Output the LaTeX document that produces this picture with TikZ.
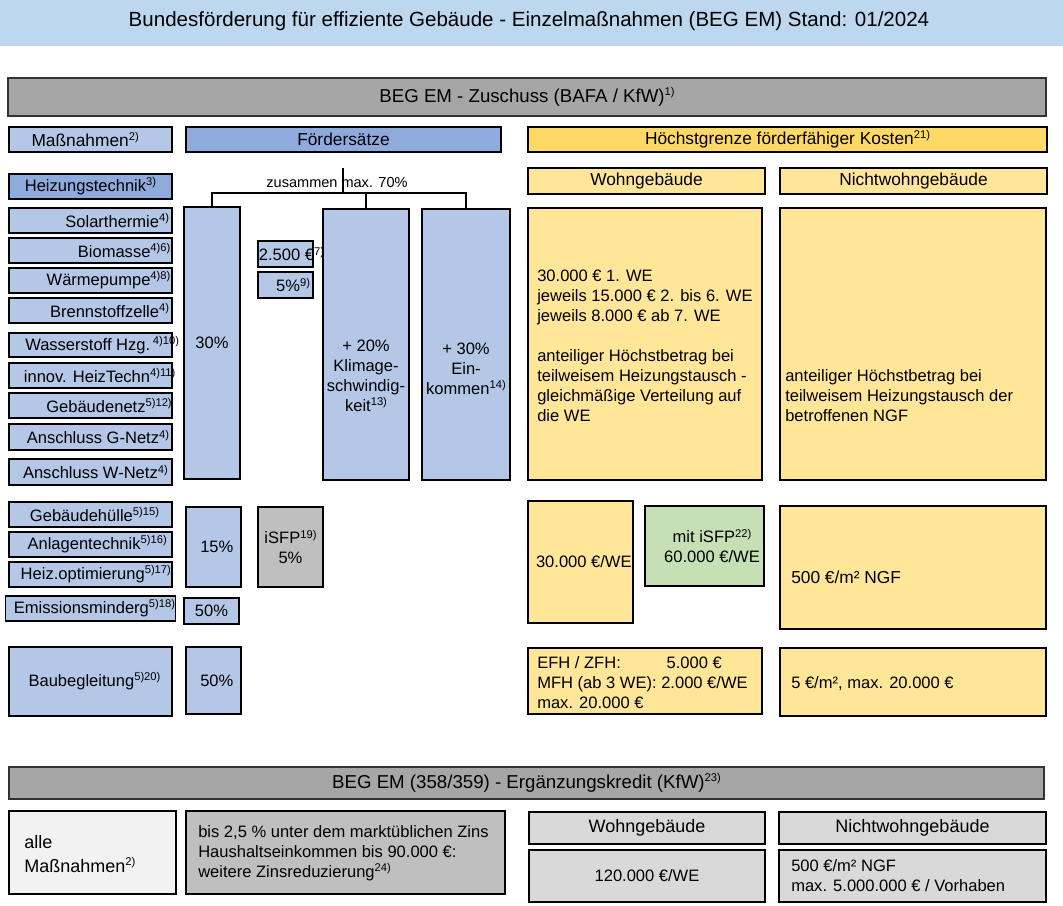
\documentclass[tikz,border=0pt]{standalone}
\usepackage{fontspec}
\setmainfont{Liberation Sans}
\definecolor{cband}{HTML}{BDD7EE}
\definecolor{cbar}{HTML}{A6A6A6}
\definecolor{cdark}{HTML}{333333}
\definecolor{clb}{HTML}{B4C7E7}
\definecolor{cmb}{HTML}{8FAADC}
\definecolor{cyd}{HTML}{FFD966}
\definecolor{cyl}{HTML}{FFE699}
\definecolor{cgn}{HTML}{C5E0B4}
\definecolor{cgr}{HTML}{BFBFBF}
\definecolor{cwh}{HTML}{F2F2F2}
\definecolor{cgl}{HTML}{D9D9D9}
\newcommand\fnx[1]{\raisebox{0.36em}{\fontsize{8.4pt}{9pt}\selectfont #1}}
\newcommand\ftitle{\fontsize{15.4pt}{18pt}\selectfont}
\newcommand\fbar{\fontsize{14pt}{16pt}\selectfont}
\newcommand\fhead{\fontsize{13pt}{15pt}\selectfont}
\newcommand\fheadb{\fontsize{13.5pt}{16pt}\selectfont}
\newcommand\fbody{\fontsize{12.4pt}{15pt}\selectfont}
\newcommand\fbodyb{\fontsize{13pt}{15pt}\selectfont}
\newcommand\fsmall{\fontsize{10.9pt}{12pt}\selectfont}
% name, style, x1, y1, x2, y2, text
\newcommand\bxx[7]{%
  \pgfmathsetmacro\bw{(#5-#3)*0.75}%
  \pgfmathsetmacro\bh{(#6-#4)*0.75}%
  \node[boxbase,#2,minimum width=\bw pt,minimum height=\bh pt] (#1) at ({(#3+#5)/2},{(#4+#6)/2}) {#7};}
\begin{document}
\begin{tikzpicture}[x=0.75pt,y=-0.75pt,
  boxbase/.style={draw=black,line width=0.8pt,inner sep=0pt,outer sep=0pt,align=center,font=\fbody},
  lb/.style={fill=clb},
  mb/.style={fill=cmb},
  yd/.style={fill=cyd},
  yl/.style={fill=cyl},
  gn/.style={fill=cgn},
  gr/.style={fill=cgr},
  bar/.style={fill=cbar,draw=cdark,line width=2pt,font=\fbar},
  bar2/.style={fill=cbar,draw=cdark,line width=1.3pt,font=\fbar},
  txt/.style={inner sep=0pt,font=\fbody},
  txtl/.style={inner sep=0pt,font=\fbody,align=left,anchor=west},
  conn/.style={draw=black,line width=0.8pt}]
\useasboundingbox (0,0) rectangle (1063,906);
\fill[white] (0,0) rectangle (1063,906);
% title
\bxx{band}{fill=cband,draw=none,font=\ftitle}{0}{0}{1063}{46}{}
\node[inner sep=0pt,font=\ftitle] (title) at (529,21) {Bundesförderung für effiziente Gebäude - Einzelmaßnahmen (BEG EM) Stand: 01/2024};
\bxx{zus}{bar}{8}{78}{1046}{116}{BEG EM - Zuschuss (BAFA / KfW)\fnx{1)}}
% headers
\bxx{massn}{lb,font=\fhead}{9}{127}{172}{152}{\hspace{-8pt}Maßnahmen\fnx{2)}}
\bxx{foerd}{mb,font=\fhead}{186}{127}{501}{152}{Fördersätze}
\bxx{hoechst}{yd,font=\fhead}{528}{127}{1047}{152}{Höchstgrenze förderfähiger Kosten\fnx{21)}}
\bxx{heiz}{mb}{9}{174}{172}{199}{Heizungstechnik\fnx{3)}}
\bxx{wg}{yl,font=\fhead}{528}{168}{765}{194}{Wohngebäude}
\bxx{nwg}{yl,font=\fhead}{780}{168}{1047}{194}{Nichtwohngebäude}
% heating measures
\bxx{solar}{lb}{9}{208}{172}{233}{}
\bxx{bio}{lb}{9}{238}{172}{263}{}
\bxx{wp}{lb}{9}{268}{172}{293}{}
\bxx{bz}{lb}{9}{298}{172}{323}{}
\bxx{hzwei}{lb}{9}{333}{172}{357}{}
\bxx{innov}{lb}{9}{363}{172}{388}{}
\bxx{gnetz}{lb}{9}{393}{172}{418}{}
\bxx{ganschl}{lb}{9}{424}{172}{450}{}
\bxx{wanschl}{lb}{9}{459}{172}{485}{}
\node[txt,anchor=east] (solar-t) at ([xshift=-2]solar.east) {Solarthermie\fnx{4)}};
\node[txt,anchor=east] (bio-t) at ([xshift=-1]bio.east) {Biomasse\fnx{4)6)}};
\node[txt,anchor=east] (wp-t) at ([xshift=-1]wp.east) {Wärmepumpe\fnx{4)8)}};
\node[txt,anchor=east] (bz-t) at ([xshift=-2]bz.east) {Brennstoffzelle\fnx{4)}};
\node[txt,anchor=west] (hzwei-t) at ([xshift=12]hzwei.west) {Wasserstoff Hzg.\,\fnx{4)10)}};
\node[txt,anchor=west] (innov-t) at ([xshift=11]innov.west) {innov. HeizTechn\fnx{4)11)}};
\node[txt,anchor=east] (gnetz-t) at ([xshift=0]gnetz.east) {Gebäudenetz\fnx{5)12)}};
\node[txt,anchor=east] (ganschl-t) at ([xshift=-2]ganschl.east) {Anschluss G-Netz\fnx{4)}};
\node[txt,anchor=east] (wanschl-t) at ([xshift=-3]wanschl.east) {Anschluss W-Netz\fnx{4)}};
% rates heating
\bxx{pdreissig}{lb}{184}{207}{240}{479}{30\%}
\draw[line width=1.6pt,black] (pdreissig.north east) -- (pdreissig.south east);
\bxx{peur}{lb}{258}{241}{313}{267}{}
\node[txt,anchor=west] (peur-t) at ([xshift=0.5]peur.west) {2.500 €\fnx{7)}};
\bxx{pfuenf}{lb}{258}{272}{313}{298}{}
\node[txt,anchor=east] (pfuenf-t) at ([xshift=-2]pfuenf.east) {5\%\fnx{9)}};
\bxx{klima}{lb}{323}{209}{409}{480}{}
\node[txt,align=center] (klima-t) at (366,376) {+ 20\%\\Klimage-\\schwindig-\\keit\fnx{13)}};
\bxx{eink}{lb}{422}{209}{510}{480}{}
\node[txt,align=center] (eink-t) at (466,369) {+ 30\%\\Ein-\\kommen\fnx{14)}};
% bracket
\coordinate (brtop) at (343,168);
\coordinate (brmid) at (343,193);
\node[inner sep=0pt,font=\fsmall] (zusammen) at (337,182) {zusammen max. 70\%};
\draw[conn] (pdreissig.north) -- (pdreissig.north |- brmid) -- (eink.north |- brmid) -- (eink.north);
\draw[conn] (klima.north) -- (klima.north |- brmid);
\draw[conn] (brtop) -- (brmid);
% max costs heating
\bxx{wgc}{yl}{528}{208}{762}{480}{}
\node[txtl] (wgc-t) at (537,346) {30.000 € 1. WE\\jeweils 15.000 € 2. bis 6. WE\\jeweils 8.000 € ab 7. WE\\[15pt]anteiliger Höchstbetrag bei\\teilweisem Heizungstausch -\\gleichmäßige Verteilung auf\\die WE};
\bxx{nwgc}{yl}{780}{208}{1046}{480}{}
\node[txtl] (nwgc-t) at (785,396) {anteiliger Höchstbetrag bei\\teilweisem Heizungstausch der\\betroffenen NGF};
% second group
\bxx{huelle}{lb}{9}{502}{172}{527}{\hspace{6pt}Gebäudehülle\fnx{5)15)}}
\bxx{anlage}{lb}{9}{532}{172}{557}{\hspace{10pt}Anlagentechnik\fnx{5)16)}}
\bxx{heizopt}{lb}{9}{562}{172}{587}{\hspace{8pt}Heiz.optimierung\fnx{5)17)}}
\bxx{emiss}{lb}{9}{596}{172}{621}{\hspace{6pt}Emissionsminderg\fnx{5)18)}}
\bxx{baub}{lb}{9}{647}{172}{716}{\hspace{6pt}Baubegleitung\fnx{5)20)}}
\bxx{pfuenfzehn}{lb}{186}{507}{241}{587}{\hspace{5pt}15\%}
\bxx{isfp}{gr}{258}{507}{323}{587}{iSFP\fnx{19)}\\5\%}
\bxx{pfuenfziga}{lb}{184}{598}{239}{624}{50\%}
\bxx{pfuenfzigb}{lb}{186}{647}{241}{714}{\hspace{5pt}50\%}
\bxx{wgdreissig}{yl}{528}{501}{633}{623}{\hspace{5pt}30.000 €/WE}
\bxx{isfpsechzig}{gn}{645}{506}{764}{586}{}
\node[txt,align=center] (isfpsechzig-t) at (712,546) {mit iSFP\fnx{22)}\\60.000 €/WE};
\bxx{ngf}{yl}{780}{506}{1046}{629}{}
\node[txtl,font=\fbodyb] (ngf-t) at (791,577) {500 €/m² NGF};
\bxx{efh}{yl}{528}{648}{762}{714}{}
\node[txtl] (efh-t) at (537,683) {\makebox[97pt][l]{EFH / ZFH:}5.000 €\\MFH (ab 3 WE): 2.000 €/WE\\max. 20.000 €};
\bxx{mfuenf}{yl}{780}{648}{1046}{716}{}
\node[txtl] (mfuenf-t) at (791,684) {5 €/m², max. 20.000 €};
% loan section
\bxx{erg}{bar2}{9}{767}{1044}{799}{BEG EM (358/359) - Ergänzungskredit (KfW)\fnx{23)}}
\bxx{alle}{fill=cwh}{9}{811}{176}{894}{}
\node[txtl,font=\fheadb] (alle-t) at (24,854) {alle\\[2pt]Maßnahmen\fnx{2)}};
\bxx{zins}{gr}{186}{811}{505}{894}{}
\node[txtl] (zins-t) at (198,853) {bis 2,5 \% unter dem marktüblichen Zins\\Haushaltseinkommen bis 90.000 €:\\weitere Zinsreduzierung\fnx{24)}};
\bxx{wgb}{fill=cgl,font=\fheadb}{529}{812}{765}{844}{Wohngebäude}
\bxx{nwgb}{fill=cgl,font=\fheadb}{779}{812}{1046}{844}{Nichtwohngebäude}
\bxx{wgbw}{fill=cgl}{529}{850}{765}{902}{120.000 €/WE}
\bxx{nwgbw}{fill=cgl}{779}{850}{1046}{902}{}
\node[txtl] (nwgbw-t) at (791,876) {500 €/m² NGF\\max. 5.000.000 € / Vorhaben};
\end{tikzpicture}
\end{document}
